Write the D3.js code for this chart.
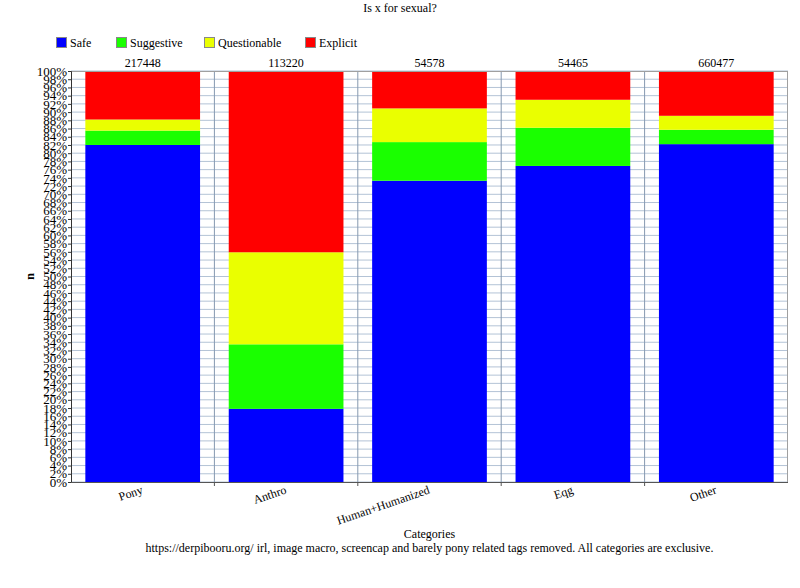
<!DOCTYPE html>
<html><head><meta charset="utf-8">
<script src="https://cdn.jsdelivr.net/npm/d3@7"></script>
<style>body{margin:0;background:#fff}svg{display:block}</style>
</head><body><svg id="c" width="800" height="588" style="font-family:'Liberation Serif','DejaVu Serif',serif"></svg>
<script>
const categories = ["Pony","Anthro","Human+Humanized","Eqg","Other"];
const totals = [217448,113220,54578,54465,660477];
const seriesNames = ["Safe","Suggestive","Questionable","Explicit"];
const seriesColors = ["#0000ff","#1aff00","#eaff00","#ff0000"];
const safe = [82.0,17.8,73.3,76.9,82.2];
const suggestive = [3.5,15.7,9.4,9.3,3.5];
const questionable = [2.7,22.4,8.2,6.8,3.4];
const explicit = [11.8,44.1,9.1,7.0,10.9];
const yTicks = d3.range(0,101,2);
const FF = "'Liberation Serif','DejaVu Serif',serif";

const svg = d3.select("#c");
const L=71,R=788,T=71,B=482;
const x = d3.scaleBand().domain(categories).range([L,R]).paddingInner(0.2).paddingOuter(0.1);
const y = d3.scaleLinear().domain([0,100]).range([B,T]);

// gridlines
svg.append("g").selectAll("line").data(yTicks).join("line")
  .attr("x1",L).attr("x2",R).attr("y1",d=>y(d)).attr("y2",d=>y(d))
  .attr("stroke","#b3c3d6").attr("stroke-width",1);
const bounds = categories.slice(1).map(c=>x(c)-x.step()*x.paddingInner()/2);
svg.append("g").selectAll("line").data(bounds).join("line")
  .attr("x1",d=>d).attr("x2",d=>d).attr("y1",T).attr("y2",B)
  .attr("stroke","#8699b0").attr("stroke-width",1);

// stacked bars
const rows = categories.map((c,i)=>({cat:c,Safe:safe[i],Suggestive:suggestive[i],Questionable:questionable[i],Explicit:explicit[i]}));
const stack = d3.stack().keys(seriesNames)(rows);
svg.append("g").selectAll("g").data(stack).join("g")
  .attr("fill",(d,i)=>seriesColors[i])
  .selectAll("rect").data(d=>d).join("rect")
  .attr("x",d=>x(d.data.cat)).attr("width",x.bandwidth())
  .attr("y",d=>y(Math.min(100,d[1]))).attr("height",d=>y(d[0])-y(Math.min(100,d[1])));

// frame
svg.append("line").attr("x1",L).attr("x2",R).attr("y1",T+0.5).attr("y2",T+0.5).attr("stroke","#a0a0a0");
svg.append("line").attr("x1",R-0.5).attr("x2",R-0.5).attr("y1",T).attr("y2",B).attr("stroke","#a0a0a0");

// y axis
const yAxis = d3.axisLeft(y).tickValues(yTicks).tickFormat(d=>d+"%").tickSize(3).tickPadding(1);
const ya = svg.append("g").attr("transform",`translate(${L},0)`).call(yAxis);
ya.attr("font-family",FF).attr("font-size",13);
ya.select(".domain").attr("stroke","#333");
ya.selectAll(".tick line").attr("stroke","#333");
ya.selectAll("text").style("font-family",FF).style("font-size","13px").attr("fill","#000");

// x axis
const xa = svg.append("g").attr("transform",`translate(0,${B})`);
xa.append("line").attr("x1",L).attr("x2",R).attr("y1",0.5).attr("y2",0.5).attr("stroke","#555");
xa.selectAll("line.t").data(bounds).join("line").attr("class","t")
  .attr("x1",d=>d).attr("x2",d=>d).attr("y1",0).attr("y2",4).attr("stroke","#555");
svg.append("g").selectAll("text").data(categories).join("text")
  .attr("transform",d=>`translate(${x(d)+x.bandwidth()/2+1},${B+11}) rotate(-19)`)
  .attr("text-anchor","end").style("font-family",FF).style("font-size","12px").text(d=>d);

// totals
svg.append("g").selectAll("text").data(categories).join("text")
  .attr("x",d=>x(d)+x.bandwidth()/2).attr("y",T-4).attr("text-anchor","middle")
  .style("font-family",FF).style("font-size","12px").text((d,i)=>totals[i]);

// titles
const txt = (xx,yy,s,anchor)=>svg.append("text").attr("x",xx).attr("y",yy).attr("text-anchor",anchor||"middle")
  .style("font-family",FF).style("font-size","12px").text(s);
txt(400,12,"Is x for sexual?");
svg.append("text").attr("transform",`translate(34,${(T+B)/2}) rotate(-90)`).attr("text-anchor","middle")
  .style("font-family",FF).style("font-size","12px").style("font-weight","bold").text("n");
txt((L+R)/2,538,"Categories");
txt((L+R)/2,552,"https://derpibooru.org/ irl, image macro, screencap and barely pony related tags removed. All categories are exclusive.");

// legend
const legX = [56,116,204,305];
const lg = svg.append("g").selectAll("g").data(seriesNames).join("g")
  .attr("transform",(d,i)=>`translate(${legX[i]},37)`);
lg.append("rect").attr("x",0.5).attr("y",0.5).attr("width",10).attr("height",10)
  .attr("fill",(d,i)=>seriesColors[i]).attr("stroke","#888");
lg.append("text").attr("x",14).attr("y",9.5).style("font-family",FF).style("font-size","12px").text(d=>d);
</script></body></html>
